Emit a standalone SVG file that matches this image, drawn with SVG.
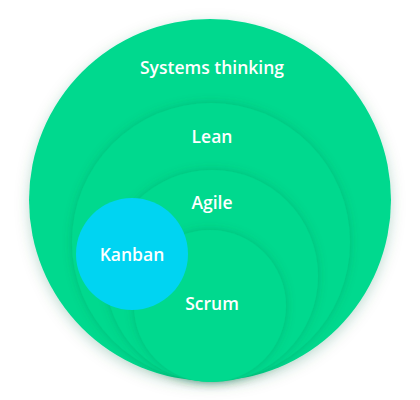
<svg xmlns="http://www.w3.org/2000/svg" width="420" height="400" viewBox="0 0 420 400">
  <defs>
    <filter id="sh" x="-20%" y="-20%" width="140%" height="140%">
      <feDropShadow dx="0" dy="0" stdDeviation="5" flood-color="#006040" flood-opacity="0.25"/>
    </filter>
    <filter id="sh2" x="-20%" y="-20%" width="140%" height="140%">
      <feDropShadow dx="0" dy="4" stdDeviation="7" flood-color="#00704a" flood-opacity="0.25"/>
    </filter>
    <style>
      .g { fill: #00D98E; }
      .k { fill: #00D4F2; }
      .t { font-family: "Open Sans", Lato, "Liberation Sans", sans-serif; font-weight: 600; font-size: 17.5px; fill: #ffffff; text-anchor: middle; }
    </style>
  </defs>
  <g id="systems-thinking">
    <circle class="g" cx="210" cy="200" r="181" filter="url(#sh2)"/>
    <text class="t" x="212" y="74">Systems thinking</text>
  </g>
  <g id="lean">
    <circle class="g" cx="211" cy="242" r="139" filter="url(#sh)"/>
    <text class="t" x="212" y="143">Lean</text>
  </g>
  <g id="agile">
    <circle class="g" cx="212" cy="276" r="106" filter="url(#sh)"/>
    <text class="t" x="212" y="209">Agile</text>
  </g>
  <g id="scrum">
    <circle class="g" cx="210" cy="306" r="76" filter="url(#sh)"/>
    <text class="t" x="212" y="310">Scrum</text>
  </g>
  <g id="kanban">
    <circle class="k" cx="132" cy="254" r="56"/>
    <text class="t" x="132" y="261">Kanban</text>
  </g>
  <g id="connectors"></g>
</svg>
